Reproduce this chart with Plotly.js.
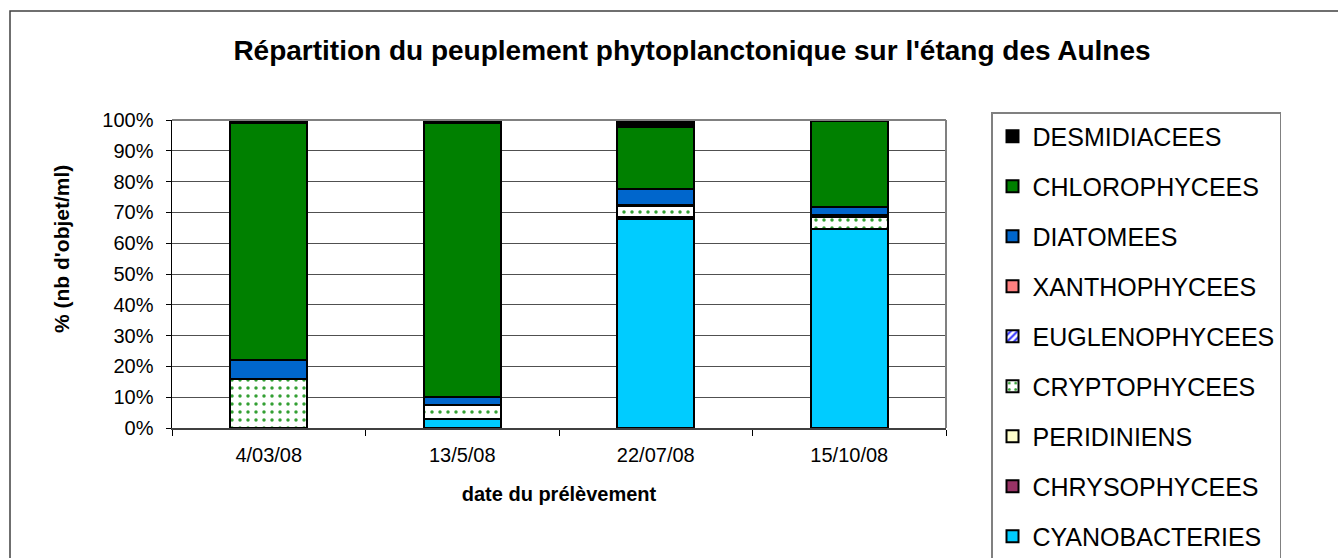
<!DOCTYPE html>
<html>
<head>
<meta charset="utf-8">
<script src="https://cdn.plot.ly/plotly-3.0.1.min.js"></script>
<style>
  html, body { margin: 0; padding: 0; background: #fff; }
  #chart { width: 1338px; height: 558px; }
</style>
</head>
<body>
<div id="chart"></div>
<script>
// ---- Data (percent of objects/ml) ----
const dates = ['4/03/08', '13/5/08', '22/07/08', '15/10/08'];
const yTickVals = [0, 10, 20, 30, 40, 50, 60, 70, 80, 90, 100];
const yTickText = ['0%', '10%', '20%', '30%', '40%', '50%', '60%', '70%', '80%', '90%', '100%'];

const cyanobacteries = [0, 3, 67.8, 64.5];
const chrysophycees  = [0, 0, 0, 0];
const peridiniens    = [0, 0, 0.7, 0];
const cryptophycees  = [16, 4.5, 3.5, 4];
const euglenophycees = [0, 0, 0.5, 0.8];
const xanthophycees  = [0, 0, 0, 0];
const diatomees      = [6, 2.5, 5, 2.5];
const chlorophycees  = [77, 89, 20.2, 27.9];
const desmidiacees   = [1, 1, 2.3, 0.3];

const seriesNames = ['CYANOBACTERIES', 'CHRYSOPHYCEES', 'PERIDINIENS', 'CRYPTOPHYCEES',
  'EUGLENOPHYCEES', 'XANTHOPHYCEES', 'DIATOMEES', 'CHLOROPHYCEES', 'DESMIDIACEES'];
const seriesValues = [cyanobacteries, chrysophycees, peridiniens, cryptophycees,
  euglenophycees, xanthophycees, diatomees, chlorophycees, desmidiacees];
const seriesColors = ['#00CCFF', '#993366', '#FFFFCC', '#FFFFFF',
  '#FFFFFF', '#FF8080', '#0066CC', '#008000', '#000000'];
const seriesPatterns = [null, null, null,
  {shape: '.', fgcolor: '#33A033', bgcolor: '#FFFFFF', size: 8, solidity: 0.15},
  {shape: '/', fgcolor: '#3333FF', bgcolor: '#FFFFFF', size: 6, solidity: 0.45},
  null, null, null, null];

const traces = seriesNames.map((name, i) => {
  const marker = {color: seriesColors[i], line: {color: '#000000', width: 2}};
  if (seriesPatterns[i]) marker.pattern = seriesPatterns[i];
  return {
    type: 'bar', name: name, x: dates, y: seriesValues[i],
    marker: marker, legendgroup: 'g' + i, legendrank: seriesNames.length - i,
    hoverinfo: 'name+y'
  };
});

// plot area in pixels
const L = 172, R = 946, T = 120, B = 428, W = 1338, H = 558;
const px = v => (v - L) / (R - L);
const py = v => (B - v) / (B - T);

const layout = {
  width: W, height: H,
  margin: {l: L, r: W - R, t: T, b: H - B, pad: 0, autoexpand: false},
  paper_bgcolor: '#FFFFFF', plot_bgcolor: '#FFFFFF',
  barmode: 'stack', bargap: 0.6,
  font: {family: 'Liberation Sans, Arial, sans-serif', color: '#000000', size: 20},
  title: {
    text: "<b>Répartition du peuplement phytoplanctonique sur l'étang des Aulnes</b>",
    font: {size: 28, family: 'Liberation Sans, Arial, sans-serif'},
    x: 0.5 * (218 + 1166) / W, xanchor: 'center', xref: 'container',
    y: 1 - 50 / H, yanchor: 'middle', yref: 'container'
  },
  xaxis: {
    type: 'category', showgrid: false, zeroline: false, automargin: false,
    showline: true, linecolor: '#404040', linewidth: 2,
    ticks: 'outside', ticklen: 6, tickcolor: '#000', tickson: 'boundaries',
    ticklabelstandoff: 8,
    tickfont: {size: 20},
    title: {text: '<b>date du prélèvement</b>', font: {size: 20}, standoff: 22}
  },
  yaxis: {
    range: [0, 100], tickvals: yTickVals, ticktext: yTickText, automargin: false,
    showgrid: true, gridcolor: '#505050', gridwidth: 1, zeroline: false,
    showline: true, linecolor: '#000', linewidth: 1.5,
    ticks: 'outside', ticklen: 5, tickcolor: '#000',
    ticklabelstandoff: 8,
    tickfont: {size: 20}
  },
  legend: {
    x: px(991), xanchor: 'left', y: py(112), yanchor: 'top',
    traceorder: 'grouped', tracegroupgap: 14.5,
    bgcolor: '#FFFFFF', bordercolor: '#808080', borderwidth: 1.5,
    font: {size: 25}, maxheight: 2000
  },
  annotations: [{
    text: "<b>% (nb d'objet/ml)</b>", textangle: -90, showarrow: false,
    xref: 'paper', yref: 'paper', x: px(62), y: py(249),
    xanchor: 'center', yanchor: 'middle', font: {size: 21}
  }],
  shapes: [
    {type: 'line', xref: 'paper', yref: 'paper', x0: 0, x1: 1, y0: 1, y1: 1,
     line: {color: '#808080', width: 2}},
    {type: 'line', xref: 'paper', yref: 'paper', x0: 1, x1: 1, y0: 0, y1: 1,
     line: {color: '#808080', width: 2}},
    {type: 'rect', xref: 'paper', yref: 'paper', x0: px(10), x1: px(1350),
     y0: py(575), y1: py(11), line: {color: '#404040', width: 1.5}, layer: 'below'}
  ],
  showlegend: true
};

Plotly.newPlot('chart', traces, layout, {displayModeBar: false, staticPlot: true});
</script>
</body>
</html>
